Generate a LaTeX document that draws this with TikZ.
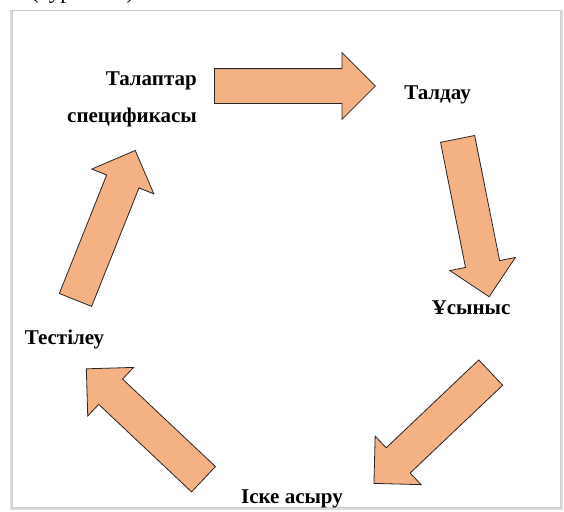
\documentclass[tikz,border=0pt]{standalone}
\usepackage{fontspec}
\setmainfont{Liberation Serif}
\usetikzlibrary{shapes.arrows}
\definecolor{myorange}{RGB}{244,177,131}
\definecolor{myframe}{RGB}{205,205,205}

\tikzset{
    stage/.style={font=\bfseries\fontsize{21}{37}\selectfont, inner sep=0pt},
    blockarrow/.style={single arrow, draw=black!85, fill=myorange, line width=0.8pt,
        minimum height=161pt, minimum width=66pt,
        single arrow head extend=16pt, single arrow head indent=0pt,
        inner xsep=0pt, inner ysep=17pt, anchor=tail}
}

\begin{document}
\begin{tikzpicture}[x=1pt, y=-1pt]
    \useasboundingbox (0, 0) rectangle (564, 511);
    % caption cut by the top edge
    \node[anchor=base west, inner sep=0pt, font=\fontsize{23}{27}\selectfont] (caption) at (31, -1) {(сурет 1.1)};
    % frame
    \draw[line width=2.5pt, myframe!70] (11, 10) -- (11, 509) -- (562, 509) -- (562, 10);
    \draw[line width=0.8pt, myframe, fill=white] (12.5, 10) rectangle (560.5, 507.5);

    % stages
    \node[stage, align=right, anchor=east] (spec) at (197, 99.5) {Талаптар\\спецификасы};
    \node[stage, anchor=base] (analysis) at (437.5, 99) {Талдау};
    \node[stage, anchor=base] (proposal) at (471, 314) {Ұсыныс};
    \node[stage, anchor=base] (impl) at (292, 503) {Іске асыру};
    \node[stage, anchor=base] (test) at (64.5, 344) {Тестілеу};

    % arrows, placed by their tails
    \node[blockarrow, rotate=0] (a1) at (214, 86) {};
    \node[blockarrow, rotate=-78.7] (a2) at (457.5, 138.5) {};
    \node[blockarrow, rotate=223.5] (a3) at (491, 372.3) {};
    \node[blockarrow, rotate=136.7] (a4) at (203.8, 479.5) {};
    \node[blockarrow, rotate=68.2] (a5) at (75.3, 300.3) {};
\end{tikzpicture}
\end{document}
